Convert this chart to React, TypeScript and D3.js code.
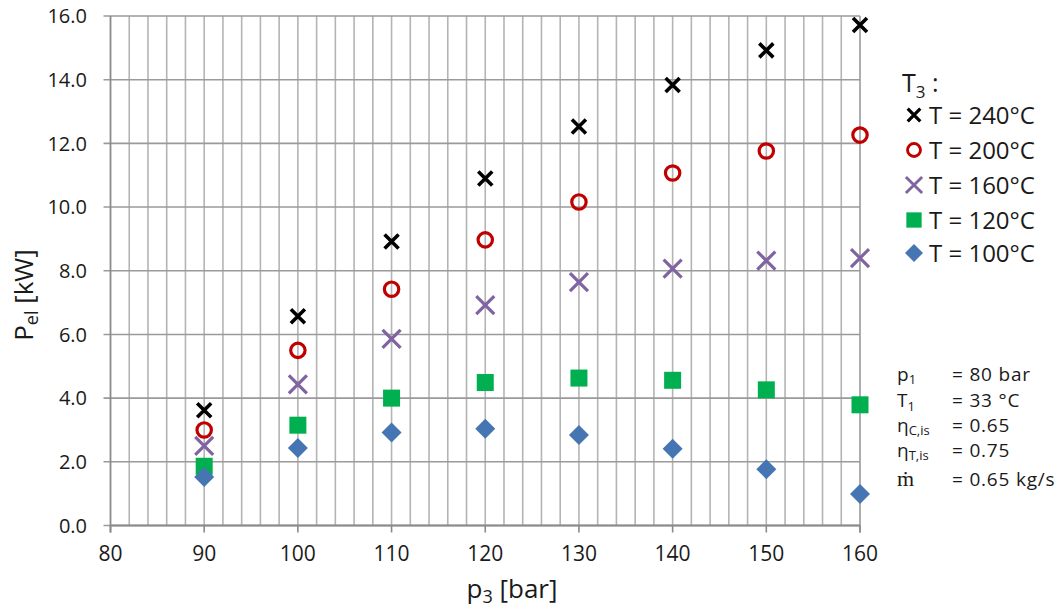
import React from "react";
import * as d3 from "d3";

// Outlet pressure p3 [bar]
const pressures = [90, 100, 110, 120, 130, 140, 150, 160];

// Electric power P_el [kW] per turbine inlet temperature T3
const series240 = [3.62, 6.57, 8.92, 10.9, 12.53, 13.83, 14.92, 15.72];
const series200 = [3.0, 5.5, 7.42, 8.97, 10.16, 11.07, 11.76, 12.26];
const series160 = [2.5, 4.43, 5.86, 6.92, 7.64, 8.07, 8.32, 8.4];
const series120 = [1.86, 3.15, 4.0, 4.49, 4.63, 4.56, 4.26, 3.79];
const series100 = [1.52, 2.43, 2.92, 3.04, 2.84, 2.41, 1.77, 0.99];

const legendLabels = ["T = 240°C", "T = 200°C", "T = 160°C", "T = 120°C", "T = 100°C"];
const xTicks = [80, 90, 100, 110, 120, 130, 140, 150, 160];
const yTicks = [0, 2, 4, 6, 8, 10, 12, 14, 16];

type MarkerKind = "xBlack" | "circle" | "xPurple" | "square" | "diamond";

const seriesList: { values: number[]; kind: MarkerKind }[] = [
  { values: series240, kind: "xBlack" },
  { values: series200, kind: "circle" },
  { values: series160, kind: "xPurple" },
  { values: series120, kind: "square" },
  { values: series100, kind: "diamond" },
];

const FONT = "'Open Sans', 'DejaVu Sans', sans-serif";
const INK = "#1a1a1a";

function Marker({ kind, cx, cy, scale = 1 }: { kind: MarkerKind; cx: number; cy: number; scale?: number }) {
  const s = scale;
  switch (kind) {
    case "xBlack": {
      const h = 7 * s;
      return (
        <path
          d={`M${cx - h},${cy - h}L${cx + h},${cy + h}M${cx - h},${cy + h}L${cx + h},${cy - h}`}
          stroke="#000"
          strokeWidth={3.6 * s}
          fill="none"
        />
      );
    }
    case "circle":
      return <circle cx={cx} cy={cy} r={7.2 * s} fill="none" stroke="#c00000" strokeWidth={3.2 * s} />;
    case "xPurple": {
      const h = 9 * s;
      return (
        <path
          d={`M${cx - h},${cy - h}L${cx + h},${cy + h}M${cx - h},${cy + h}L${cx + h},${cy - h}`}
          stroke="#8064a2"
          strokeWidth={3.2 * s}
          fill="none"
        />
      );
    }
    case "square": {
      const h = 8.5 * s;
      return <rect x={cx - h} y={cy - h} width={2 * h} height={2 * h} fill="#00b050" />;
    }
    case "diamond": {
      const h = 10 * s;
      return (
        <path d={`M${cx},${cy - h}L${cx + h},${cy}L${cx},${cy + h}L${cx - h},${cy}Z`} fill="#4675b3" />
      );
    }
  }
}

export default function App() {
  const width = 1064;
  const height = 608;
  const left = 110.5;
  const right = 860;
  const top = 16;
  const bottom = 525.5;

  const x = d3.scaleLinear().domain([80, 160]).range([left, right]);
  const y = d3.scaleLinear().domain([0, 16]).range([bottom, top]);

  const minorX = d3.range(82, 160, 2);

  const legendY = [115, 150, 185, 220, 253];
  const notes: { label: React.ReactNode; value: string; y: number }[] = [
    { label: <>p<tspan fontSize={13} dy={3}>1</tspan></>, value: "= 80 bar", y: 381 },
    { label: <>T<tspan fontSize={13} dy={4}>1</tspan></>, value: "= 33 °C", y: 407 },
    { label: <>η<tspan fontSize={13} dy={3}>C,is</tspan></>, value: "= 0.65", y: 432 },
    { label: <>η<tspan fontSize={13} dy={3}>T,is</tspan></>, value: "= 0.75", y: 457 },
    { label: <tspan fontFamily="'Liberation Serif', 'DejaVu Serif', serif" fontSize={22}>ṁ</tspan>, value: "= 0.65 kg/s", y: 486 },
  ];

  return (
    <svg
      width={width}
      height={height}
      style={{ position: "absolute", left: 0, top: 0, background: "#fff" }}
      fontFamily={FONT}
    >
      {/* vertical minor grid */}
      {minorX.map((v) => (
        <line key={`vx${v}`} x1={x(v)} x2={x(v)} y1={top} y2={bottom} stroke="#b4b4b4" strokeWidth={1.6} />
      ))}
      {/* horizontal major grid */}
      {yTicks.map((v) => (
        <line key={`hy${v}`} x1={left - 7} x2={right} y1={y(v)} y2={y(v)} stroke="#9a9a9a" strokeWidth={1.6} />
      ))}
      {/* right edge */}
      <line x1={right} x2={right} y1={top} y2={bottom + 7} stroke="#9a9a9a" strokeWidth={1.6} />
      {/* axes */}
      <line x1={left} x2={left} y1={top} y2={bottom + 7} stroke="#8a8a8a" strokeWidth={1.8} />
      <line x1={left} x2={right} y1={bottom} y2={bottom} stroke="#8a8a8a" strokeWidth={1.8} />
      {xTicks.map((v) => (
        <line key={`tx${v}`} x1={x(v)} x2={x(v)} y1={bottom} y2={bottom + 7} stroke="#8a8a8a" strokeWidth={1.6} />
      ))}

      {/* tick labels */}
      {yTicks.map((v) => (
        <text key={`ly${v}`} x={87} y={y(v)} dy="0.36em" textAnchor="end" fontSize={20} fill={INK}>
          {v.toFixed(1)}
        </text>
      ))}
      {xTicks.map((v) => (
        <text key={`lx${v}`} x={x(v)} y={561} textAnchor="middle" fontSize={21} fill={INK}>
          {v}
        </text>
      ))}

      {/* axis titles */}
      <text x={512} y={598} textAnchor="middle" fontSize={26} fill={INK}>
        p<tspan fontSize={18} dy={5}>3</tspan>
        <tspan dy={-5}> [bar]</tspan>
      </text>
      <text transform="translate(33,295) rotate(-90)" textAnchor="middle" fontSize={26} fill={INK}>
        P<tspan fontSize={18} dy={5}>el</tspan>
        <tspan dy={-5}> [kW]</tspan>
      </text>

      {/* data markers */}
      {seriesList.map((s, si) =>
        s.values.map((v, i) => (
          <Marker key={`m${si}-${i}`} kind={s.kind} cx={x(pressures[i])} cy={y(v)} />
        ))
      )}

      {/* legend */}
      <text x={902} y={92} fontSize={25} fill={INK}>
        T<tspan fontSize={17} dy={6}>3</tspan>
        <tspan dy={-6}> :</tspan>
      </text>
      {seriesList.map((s, i) => (
        <g key={`lg${i}`}>
          <Marker kind={s.kind} cx={914} cy={legendY[i]} scale={0.9} />
          <text x={929} y={legendY[i]} dy="0.36em" fontSize={24} fill={INK}>
            {legendLabels[i]}
          </text>
        </g>
      ))}

      {/* operating conditions */}
      {notes.map((n, i) => (
        <g key={`n${i}`}>
          <text x={897} y={n.y} fontSize={19} fill={INK}>
            {n.label}
          </text>
          <text x={952} y={n.y} fontSize={19} letterSpacing={0.8} fill={INK}>
            {n.value}
          </text>
        </g>
      ))}
    </svg>
  );
}
